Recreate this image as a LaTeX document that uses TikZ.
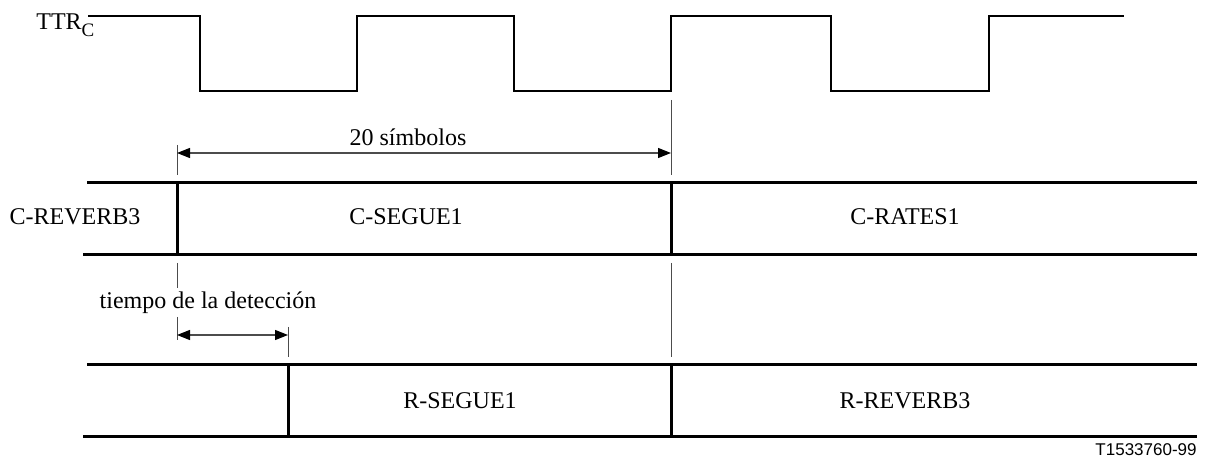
\documentclass[tikz,border=0pt]{standalone}
\usepackage{fontspec}
\setmainfont{Liberation Serif}
\newfontfamily\figsans{Liberation Sans}
\usetikzlibrary{arrows.meta,calc}

\begin{document}
\begin{tikzpicture}[x=0.5pt,y=-0.5pt,
    lbl/.style={font=\fontsize{12}{14}\selectfont},
    wave/.style={line width=0.75pt},
    row/.style={line width=1.5pt},
    tick/.style={line width=0.5pt,black!70},
    dim/.style={line width=0.6pt,black!70,{Triangle[length=6.5pt,width=5pt,black]}-{Triangle[length=6.5pt,width=5pt,black]}}]
  \useasboundingbox (0,0) rectangle (1211,458);

  % clock signal
  \node[lbl,anchor=base west,inner sep=0pt] (ttr) at (36,30) {TTR\raisebox{-3.5pt}{\fontsize{9.5}{10}\selectfont C}};
  \draw[wave] (88,16) -- (200,16) -- (200,91) -- (357,91) -- (357,16) -- (514,16)
     -- (514,91) -- (671,91) -- (671,16) -- (831,16) -- (831,91) -- (989,91)
     -- (989,16) -- (1124,16);

  % 20 simbolos
  \coordinate (s1) at (177,153);
  \coordinate (s2) at (671,153);
  \draw[tick] (177,145) -- (177,175);
  \draw[tick] (671,100) -- (671,175);
  \draw[dim] (s1) -- (s2);
  \node[lbl] (sym) at (408,137) {20 símbolos};

  % C rows
  \draw[row] (87,183) -- (1197,183);
  \draw[row] (83,255) -- (1197,255);
  \draw[row] (177,183) -- (177,255);
  \draw[row] (671,183) -- (671,255);
  \node[lbl] (crev) at (75,217) {C-REVERB3};
  \node[lbl] (cseg) at (406,217) {C-SEGUE1};
  \node[lbl] (crat) at (905,217) {C-RATES1};

  % detection time
  \coordinate (d1) at (177,335);
  \coordinate (d2) at (288,335);
  \draw[tick] (177,263) -- (177,288);
  \draw[tick] (177,317) -- (177,340);
  \draw[tick] (288,327) -- (288,357);
  \draw[tick] (671,263) -- (671,357);
  \draw[dim] (d1) -- (d2);
  \node[lbl] (det) at (208,303) {tiempo de la detección};

  % R rows
  \draw[row] (87,365) -- (1197,365);
  \draw[row] (83,437) -- (1197,437);
  \draw[row] (288,365) -- (288,437);
  \draw[row] (671,365) -- (671,437);
  \node[lbl] (rseg) at (460,401) {R-SEGUE1};
  \node[lbl] (rrev) at (905,401) {R-REVERB3};

  \node[font=\figsans\fontsize{8.5}{10}\selectfont,anchor=east,inner sep=0pt] (fig) at (1197,450) {T1533760-99};
\end{tikzpicture}
\end{document}
